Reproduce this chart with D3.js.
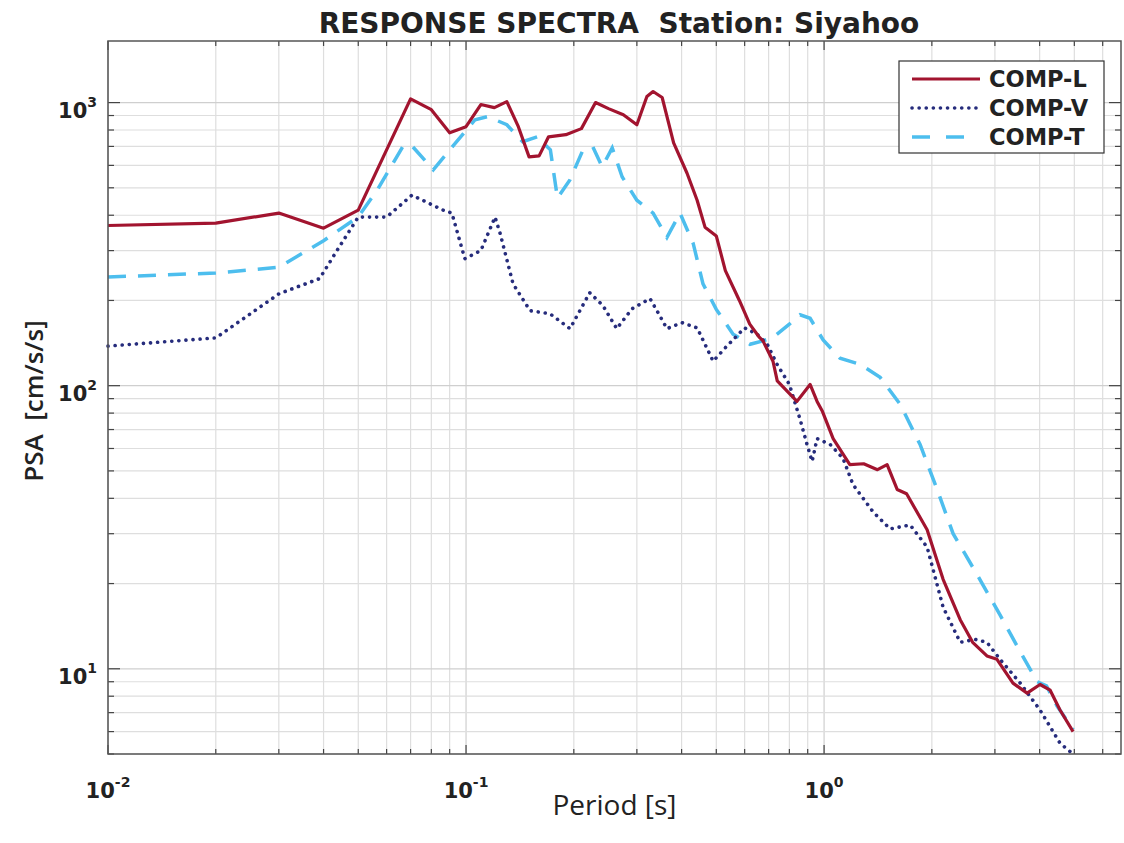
<!DOCTYPE html>
<html>
<head>
<meta charset="utf-8">
<script src="https://cdn.jsdelivr.net/npm/d3@7"></script>
<style>
  body { margin: 0; background: #fff; }
  svg { display: block; }
</style>
</head>
<body>
<div id="chart"></div>
<script>
// COMP-L (solid, dark red)
var periodL = [0.01,0.02,0.03,0.04,0.05,0.07,0.08,0.09,0.10,0.11,0.12,0.13,0.14,0.15,0.16,0.17,0.19,0.21,0.23,0.25,0.275,0.30,0.32,0.333,0.353,0.38,0.414,0.442,0.465,0.50,0.53,0.58,0.62,0.66,0.675,0.72,0.74,0.84,0.914,0.956,0.99,1.06,1.18,1.29,1.41,1.50,1.60,1.70,1.94,2.15,2.40,2.60,2.85,3.04,3.37,3.69,4.01,4.28,4.56,4.96];
var psaL = [368,375,407,360,417,1030,944,782,822,984,960,1008,822,643,648,757,770,809,1000,952,906,835,1050,1094,1042,721,564,452,363,338,255,200,165,148,144,122,104,88,101,88,81,65,52.6,53,50.5,52.6,43,41.5,31,20.7,14.9,12.4,11.1,10.8,8.9,8.2,8.8,8.4,7.15,6.0];

// COMP-V (dotted, navy)
var periodV = [0.01,0.02,0.03,0.039,0.0436,0.05,0.06,0.0706,0.0863,0.0913,0.0992,0.110,0.1205,0.1245,0.1353,0.151,0.1716,0.1952,0.2215,0.241,0.2636,0.291,0.3266,0.3477,0.364,0.401,0.442,0.49,0.535,0.60,0.65,0.694,0.739,0.80,0.857,0.896,0.926,0.956,1.04,1.13,1.205,1.371,1.529,1.739,1.94,2.15,2.40,2.64,2.85,3.10,3.53,4.01,4.56,4.96];
var psaV = [138,147.5,211,239,300,394,394,471,417,407,281,300,394,345,229,184,179.5,159,213,192,159,187,203,176.5,159,167,160,122,138,160,152,140,119,101,76,62,54,65,62,55.3,44.7,35.8,31.2,32.2,26.9,16.5,12.4,12.7,12.4,10.8,8.9,7.15,5.46,5.0];

// COMP-T (dashed, light blue)
var periodT = [0.01,0.02,0.03,0.04,0.05,0.0565,0.067,0.071,0.081,0.094,0.106,0.115,0.13,0.144,0.158,0.172,0.18,0.195,0.211,0.226,0.24,0.256,0.273,0.30,0.333,0.364,0.396,0.431,0.459,0.50,0.557,0.621,0.675,0.72,0.80,0.857,0.914,0.994,1.108,1.26,1.434,1.631,1.854,2.069,2.293,2.676,3.1,3.528,3.94,4.18,4.47,4.96];
var psaT = [242,250,262,325,395,491,709,698,579,727,870,892,835,727,757,681,460,533,670,698,593,692,546,452,407,334,407,318,229,186,152,140,144,148,165,178,173,145,125,119,107,86,62,43,30,21.5,15.5,11.5,9.0,8.7,7.4,6.1];

var seriesNames = ["COMP-L", "COMP-V", "COMP-T"];
var xLimits = [0.01, 6.75];
var yLimits = [5, 1650];

var width = 1124, height = 843;
var pLeft = 108, pRight = 1121, pTop = 41, pBottom = 754;

var svg = d3.select("#chart").append("svg")
    .attr("width", width)
    .attr("height", height);

var x = d3.scaleLog().domain(xLimits).range([pLeft, pRight]);
var y = d3.scaleLog().domain(yLimits).range([pBottom, pTop]);

function isMajor(v) {
    var l = Math.log10(v);
    return Math.abs(l - Math.round(l)) < 1e-9;
}

var xt = x.ticks();
var yt = y.ticks();

// grid
var grid = svg.append("g");
grid.selectAll("line.gx").data(xt).enter().append("line")
    .attr("x1", function(d) { return x(d); })
    .attr("x2", function(d) { return x(d); })
    .attr("y1", pTop).attr("y2", pBottom)
    .attr("stroke", function(d) { return isMajor(d) ? "#cfcfcf" : "#dedede"; })
    .attr("stroke-width", 1.2);
grid.selectAll("line.gy").data(yt).enter().append("line")
    .attr("y1", function(d) { return y(d); })
    .attr("y2", function(d) { return y(d); })
    .attr("x1", pLeft).attr("x2", pRight)
    .attr("stroke", function(d) { return isMajor(d) ? "#cfcfcf" : "#dedede"; })
    .attr("stroke-width", 1.2);

// ticks (inside, on all four sides)
var ticks = svg.append("g").attr("stroke", "#444").attr("stroke-width", 1.2);
xt.forEach(function(d) {
    var len = isMajor(d) ? 9 : 5;
    ticks.append("line").attr("x1", x(d)).attr("x2", x(d)).attr("y1", pBottom).attr("y2", pBottom - len);
    ticks.append("line").attr("x1", x(d)).attr("x2", x(d)).attr("y1", pTop).attr("y2", pTop + len);
});
yt.forEach(function(d) {
    var len = isMajor(d) ? 12 : 6;
    ticks.append("line").attr("y1", y(d)).attr("y2", y(d)).attr("x1", pLeft).attr("x2", pLeft + len);
    ticks.append("line").attr("y1", y(d)).attr("y2", y(d)).attr("x1", pRight).attr("x2", pRight - len);
});

// lines
var line = d3.line()
    .x(function(d) { return x(d[0]); })
    .y(function(d) { return y(d[1]); });

var plot = svg.append("g");

plot.append("path")
    .datum(d3.zip(periodT, psaT))
    .attr("d", line)
    .attr("fill", "none")
    .attr("stroke", "#4dbeee")
    .attr("stroke-width", 3.5)
    .attr("stroke-dasharray", "18,12");

plot.append("path")
    .datum(d3.zip(periodV, psaV))
    .attr("d", line)
    .attr("fill", "none")
    .attr("stroke", "#262c7c")
    .attr("stroke-width", 3.6)
    .attr("stroke-linecap", "round")
    .attr("stroke-dasharray", "0.1,7");

plot.append("path")
    .datum(d3.zip(periodL, psaL))
    .attr("d", line)
    .attr("fill", "none")
    .attr("stroke", "#a2142f")
    .attr("stroke-width", 3.2)
    .attr("stroke-linejoin", "round");

// frame
svg.append("rect")
    .attr("x", pLeft).attr("y", pTop)
    .attr("width", pRight - pLeft).attr("height", pBottom - pTop)
    .attr("fill", "none")
    .attr("stroke", "#555")
    .attr("stroke-width", 1.5);

// tick labels
var tickFont = "DejaVu Sans";
xt.filter(isMajor).forEach(function(d) {
    var t = svg.append("text")
        .attr("x", x(d)).attr("y", 798)
        .attr("text-anchor", "middle")
        .attr("font-family", tickFont)
        .attr("font-weight", "bold")
        .attr("font-size", 21)
        .attr("fill", "#222");
    t.append("tspan").text("10");
    t.append("tspan").attr("dy", -11).attr("font-size", 14).text(Math.round(Math.log10(d)));
});
yt.filter(isMajor).forEach(function(d) {
    var t = svg.append("text")
        .attr("x", 97).attr("y", y(d) + 15)
        .attr("text-anchor", "end")
        .attr("font-family", tickFont)
        .attr("font-weight", "bold")
        .attr("font-size", 21)
        .attr("fill", "#222");
    t.append("tspan").text("10");
    t.append("tspan").attr("dy", -11).attr("font-size", 14).text(Math.round(Math.log10(d)));
});

// title and axis labels
svg.append("text")
    .attr("x", 619).attr("y", 33)
    .attr("text-anchor", "middle")
    .attr("font-family", "DejaVu Sans")
    .attr("font-weight", "bold")
    .attr("font-size", 28)
    .attr("fill", "#222")
    .attr("xml:space", "preserve")
    .text("RESPONSE SPECTRA  Station: Siyahoo");

svg.append("text")
    .attr("x", (pLeft + pRight) / 2).attr("y", 815)
    .attr("text-anchor", "middle")
    .attr("font-family", "Open Sans")
    .attr("font-size", 28)
    .attr("fill", "#222")
    .text("Period [s]");

svg.append("text")
    .attr("transform", "translate(43,401) rotate(-90)")
    .attr("text-anchor", "middle")
    .attr("font-family", "Open Sans")
    .attr("font-weight", 600)
    .attr("font-size", 26)
    .attr("fill", "#222")
    .attr("xml:space", "preserve")
    .text("PSA  [cm/s/s]");

// legend
var legend = svg.append("g").attr("transform", "translate(899,61)");
legend.append("rect")
    .attr("width", 205).attr("height", 92)
    .attr("fill", "#fff")
    .attr("stroke", "#333")
    .attr("stroke-width", 1.2);

var legStyles = [
    { color: "#a2142f", dash: null, w: 3.2, cap: "butt" },
    { color: "#262c7c", dash: "0.1,7", w: 3.6, cap: "round" },
    { color: "#4dbeee", dash: "18,16", w: 3.5, cap: "butt" }
];
seriesNames.forEach(function(name, i) {
    var ly = 18 + i * 29;
    var s = legStyles[i];
    var l = legend.append("line")
        .attr("x1", 13).attr("x2", 81)
        .attr("y1", ly).attr("y2", ly)
        .attr("stroke", s.color)
        .attr("stroke-width", s.w)
        .attr("stroke-linecap", s.cap);
    if (s.dash) l.attr("stroke-dasharray", s.dash);
    legend.append("text")
        .attr("x", 90).attr("y", ly + 8)
        .attr("font-family", "DejaVu Sans")
        .attr("font-weight", "bold")
        .attr("font-size", 22.5)
        .attr("fill", "#222")
        .text(name);
});
</script>
</body>
</html>
